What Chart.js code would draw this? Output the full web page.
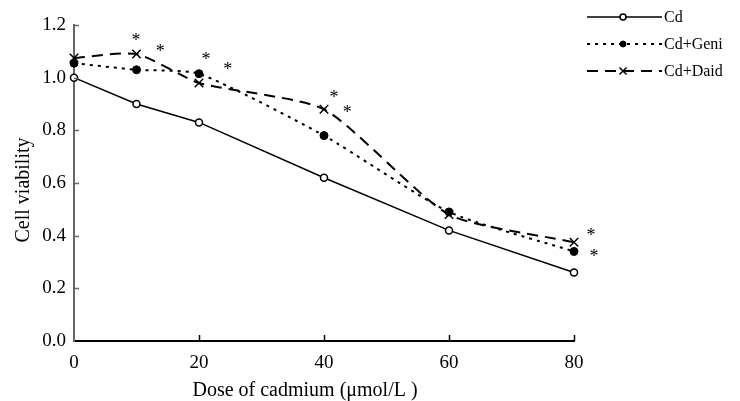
<!DOCTYPE html>
<html>
<head>
<meta charset="utf-8">
<script src="https://cdn.jsdelivr.net/npm/chart.js@4/dist/chart.umd.min.js"></script>
<style>
  html, body { margin: 0; padding: 0; background: #fff; }
  #wrap { width: 740px; height: 401px; position: relative; }
</style>
</head>
<body>
<div id="wrap"><canvas id="c" width="740" height="401"></canvas></div>
<script>
// ---- data ----
const doses = [0, 10, 20, 40, 60, 80];
const cdValues = [1.00, 0.90, 0.83, 0.62, 0.42, 0.26];
const geniValues = [1.055, 1.03, 1.015, 0.78, 0.49, 0.34];
const daidValues = [1.075, 1.09, 0.98, 0.88, 0.48, 0.375];
const seriesNames = ['Cd', 'Cd+Geni', 'Cd+Daid'];
const xTicks = [0, 20, 40, 60, 80];
const yTicks = [0.0, 0.2, 0.4, 0.6, 0.8, 1.0, 1.2];
const xTitle = 'Dose of cadmium (\u03bcmol/L )';
const yTitle = 'Cell viability';
// significance marks (data coordinates)
const starX = [9.9, 13.8, 21.1, 24.6, 41.6, 43.7, 82.7, 83.2];
const starY = [1.154, 1.113, 1.082, 1.044, 0.938, 0.881, 0.414, 0.334];

const FONT = '"Liberation Serif", "Times New Roman", serif';

function pts(vals) { return doses.map((d, i) => ({ x: d, y: vals[i] })); }

const overlay = {
  id: 'overlay',
  afterDraw(chart) {
    const ctx = chart.ctx;
    const xs = chart.scales.x, ys = chart.scales.y;
    const area = chart.chartArea;
    ctx.save();
    // inward ticks
    ctx.lineWidth = 1.5;
    ctx.strokeStyle = '#000';
    xTicks.forEach(v => {
      if (v === xs.min) return;
      const px = Math.round(xs.getPixelForValue(v)) + 0.5;
      ctx.beginPath(); ctx.moveTo(px, area.bottom); ctx.lineTo(px, area.bottom - 6); ctx.stroke();
    });
    ctx.strokeStyle = '#666';
    yTicks.forEach(v => {
      if (v === ys.min) return;
      const py = Math.round(ys.getPixelForValue(v)) + 0.5;
      ctx.beginPath(); ctx.moveTo(area.left, py); ctx.lineTo(area.left + 5, py); ctx.stroke();
    });
    // axis titles
    ctx.fillStyle = '#000';
    ctx.font = '20px ' + FONT;
    ctx.textAlign = 'center';
    ctx.textBaseline = 'alphabetic';
    ctx.fillText(xTitle, 305, 396);
    ctx.save();
    ctx.translate(29, 190);
    ctx.rotate(-Math.PI / 2);
    ctx.fillText(yTitle, 0, 0);
    ctx.restore();
    // asterisks
    ctx.font = '18px ' + FONT;
    ctx.textAlign = 'center';
    ctx.textBaseline = 'alphabetic';
    starX.forEach((sx, i) => {
      const px = xs.getPixelForValue(sx);
      const py = ys.getPixelForValue(starY[i]);
      ctx.fillText('*', px, py + 9);
    });
    // legend
    const rowsY = [17, 44, 71];
    chart.data.datasets.forEach((ds, i) => {
      const y = rowsY[i];
      ctx.save();
      ctx.strokeStyle = '#000';
      ctx.lineWidth = ds.borderWidth;
      ctx.setLineDash(ds.borderDash || []);
      ctx.beginPath(); ctx.moveTo(587, y); ctx.lineTo(662, y); ctx.stroke();
      ctx.setLineDash([]);
      ctx.fillStyle = ds.pointBackgroundColor;
      ctx.strokeStyle = '#000';
      ctx.lineWidth = ds.pointBorderWidth;
      Chart.helpers.drawPoint(ctx, {
        pointStyle: ds.pointStyle, radius: ds.legendRadius, rotation: 0, borderWidth: ds.pointBorderWidth
      }, 623, y);
      ctx.restore();
      ctx.fillStyle = '#000';
      ctx.font = '16px ' + FONT;
      ctx.textAlign = 'left';
      ctx.textBaseline = 'middle';
      ctx.fillText(ds.label, 664, y + 1);
    });
    ctx.restore();
  }
};

new Chart(document.getElementById('c'), {
  type: 'line',
  data: {
    datasets: [
      {
        label: seriesNames[0], data: pts(cdValues), clip: false,
        borderColor: '#000', borderWidth: 1.5, tension: 0,
        pointStyle: 'circle', pointRadius: 3.5, pointBorderWidth: 1.5,
        pointBackgroundColor: '#fff', pointBorderColor: '#000', legendRadius: 3
      },
      {
        label: seriesNames[1], data: pts(geniValues), clip: false,
        borderColor: '#000', borderWidth: 2, borderDash: [3, 5], tension: 0.2,
        pointStyle: 'circle', pointRadius: 4, pointBorderWidth: 1,
        pointBackgroundColor: '#000', pointBorderColor: '#000', legendRadius: 3
      },
      {
        label: seriesNames[2], data: pts(daidValues), clip: false,
        borderColor: '#000', borderWidth: 2, borderDash: [11, 7], tension: 0.2,
        pointStyle: 'crossRot', pointRadius: 6, pointBorderWidth: 1.5,
        pointBackgroundColor: '#000', pointBorderColor: '#000', legendRadius: 5
      }
    ]
  },
  options: {
    responsive: false,
    animation: false,
    events: [],
    layout: { padding: { left: 0, top: 25, right: 166, bottom: 0 } },
    plugins: { legend: { display: false }, tooltip: { enabled: false }, title: { display: false } },
    scales: {
      x: {
        type: 'linear', min: 0, max: 80,
        afterBuildTicks: s => { s.ticks = xTicks.map(v => ({ value: v })); },
        afterFit: s => { s.height = 60; },
        grid: { display: true, drawOnChartArea: false, drawTicks: false },
        border: { display: true, color: '#000', width: 2 },
        ticks: { color: '#000', font: { family: FONT, size: 19 }, padding: 11, maxRotation: 0 }
      },
      y: {
        min: 0, max: 1.2,
        afterBuildTicks: s => { s.ticks = yTicks.map(v => ({ value: v })); },
        afterFit: s => { s.width = 74; },
        grid: { display: true, drawOnChartArea: false, drawTicks: false },
        border: { display: true, color: '#666', width: 2 },
        ticks: { color: '#000', font: { family: FONT, size: 19 }, padding: 8,
          callback: v => Number(v).toFixed(1) }
      }
    }
  },
  plugins: [overlay]
});
</script>
</body>
</html>
